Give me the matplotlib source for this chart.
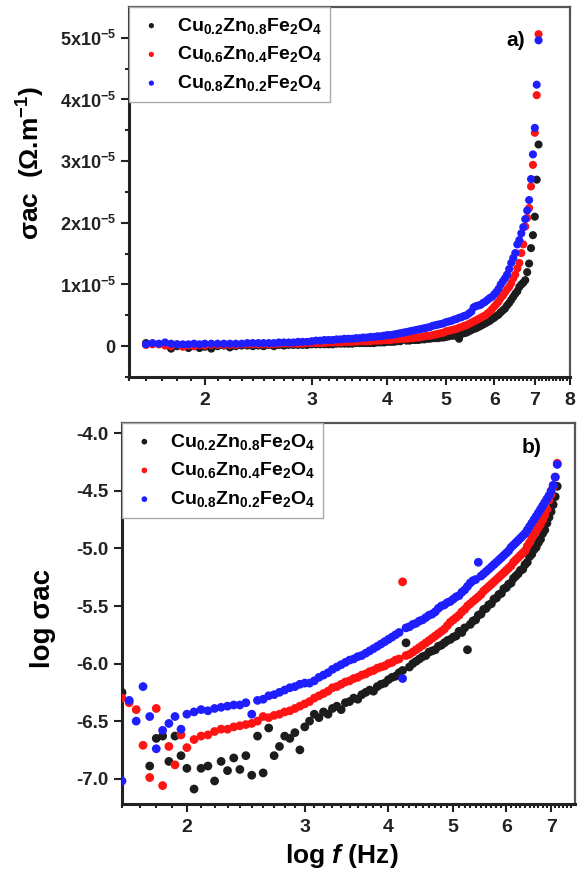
import numpy as np
import matplotlib
matplotlib.use('Agg')
import matplotlib.pyplot as plt
from matplotlib.ticker import FixedLocator, FixedFormatter, NullFormatter

plt.rcParams['font.family'] = ['Liberation Sans', 'DejaVu Sans']
plt.rcParams['font.weight'] = 'bold'
plt.rcParams['mathtext.fontset'] = 'custom'
plt.rcParams['mathtext.rm'] = 'Liberation Sans:bold'
plt.rcParams['mathtext.it'] = 'Liberation Sans:italic:bold'
plt.rcParams['mathtext.bf'] = 'Liberation Sans:bold'

nan = np.nan

# log f (Hz), shared by both panels
log_f = [1.60, 1.64, 1.68, 1.72, 1.76, 1.80, 1.84, 1.88, 1.92, 1.96,
         2.00, 2.05, 2.10, 2.15, 2.20, 2.25, 2.30, 2.35, 2.40, 2.45,
         2.50, 2.55, 2.60, 2.65, 2.70, 2.75, 2.80, 2.85, 2.90, 2.95,
         3.00, 3.05, 3.10, 3.15, 3.20, 3.25, 3.30, 3.35, 3.40, 3.45,
         3.50, 3.55, 3.60, 3.65, 3.70, 3.75, 3.80, 3.85, 3.90, 3.95,
         4.00, 4.05, 4.10, 4.15, 4.20, 4.25, 4.30, 4.35, 4.40, 4.45,
         4.50, 4.55, 4.60, 4.65, 4.70, 4.75, 4.80, 4.85, 4.90, 4.95,
         5.00, 5.05, 5.10, 5.15, 5.20, 5.25, 5.30, 5.35, 5.40, 5.45,
         5.50, 5.55, 5.60, 5.65, 5.70, 5.75, 5.80, 5.85, 5.90, 5.95,
         6.00, 6.05, 6.10, 6.15, 6.20, 6.25, 6.30, 6.35, 6.40, 6.45,
         6.50, 6.55, 6.60, 6.65, 6.70, 6.75, 6.80, 6.85, 6.90, 6.95,
         7.00, 7.05, 7.10, 7.15]

# panel a : sigma_ac in units of 1e-5
sig_02 = [0.05, nan, nan, nan, -0.04, 0.00, 0.01, -0.03, 0.00, -0.03,
          -0.01, -0.04, 0.00, 0.01, -0.02, 0.00, 0.01, 0.01, 0.00, 0.01,
          0.00, 0.02, 0.00, 0.02, 0.01, 0.02, 0.02, 0.02, 0.02, 0.02,
          0.03, 0.03, 0.03, 0.03, 0.03, 0.03, 0.04, 0.04, 0.04, 0.04,
          0.04, 0.05, 0.05, 0.05, 0.05, 0.05, 0.05, 0.06, 0.06, 0.06,
          0.07, 0.07, 0.07, 0.08, 0.08, 0.15, 0.09, 0.09, 0.10, 0.10,
          0.10, 0.11, 0.11, 0.12, 0.12, 0.13, 0.13, 0.13, 0.14, 0.14,
          0.15, 0.16, 0.17, 0.17, 0.18, 0.12, 0.20, 0.21, 0.22, 0.24,
          0.26, 0.28, 0.29, 0.31, 0.33, 0.35, 0.37, 0.39, 0.41, 0.44,
          0.46, 0.49, 0.51, 0.55, 0.58, 0.61, 0.66, 0.70, 0.75, 0.80,
          0.85, 0.89, 0.96, 1.00, 1.03, 1.07, 1.20, 1.34, 1.59, 1.80,
          2.10, 2.70, 3.27, nan]
sig_06 = [0.02, 0.03, 0.03, 0.01, 0.00, 0.03, -0.01, 0.01, 0.00, 0.02,
          0.01, 0.02, 0.02, 0.02, 0.02, 0.02, 0.03, 0.03, 0.03, 0.03,
          0.03, 0.03, 0.03, 0.04, 0.04, 0.04, 0.04, 0.04, 0.04, 0.05,
          0.05, 0.05, 0.05, 0.05, 0.06, 0.06, 0.06, 0.06, 0.07, 0.07,
          0.07, 0.07, 0.08, 0.08, 0.08, 0.08, 0.09, 0.09, 0.09, 0.10,
          0.10, 0.10, 0.11, 0.11, 0.12, 0.12, 0.12, 0.13, 0.13, 0.14,
          0.14, 0.15, 0.16, 0.17, 0.17, 0.18, 0.19, 0.20, 0.21, 0.22,
          0.24, 0.25, 0.26, 0.27, 0.28, 0.30, 0.31, 0.33, 0.34, 0.36,
          0.38, 0.40, 0.42, 0.44, 0.46, 0.48, 0.50, 0.53, 0.56, 0.60,
          0.64, 0.68, 0.72, 0.78, 0.82, 0.87, 0.92, 0.96, 1.02, 1.10,
          1.16, 1.26, 1.35, 1.51, 1.65, 1.94, 2.08, 2.24, 2.59, 2.94,
          3.46, 4.07, 5.06, nan]
sig_08 = [0.03, 0.05, 0.04, 0.06, 0.04, 0.03, 0.03, 0.03, 0.04, 0.03,
          0.04, 0.04, 0.04, 0.04, 0.04, 0.04, 0.04, 0.05, 0.05, 0.05,
          0.05, 0.05, 0.05, 0.06, 0.06, 0.06, 0.06, 0.07, 0.07, 0.07,
          0.08, 0.09, 0.09, 0.10, 0.10, 0.10, 0.11, 0.11, 0.12, 0.12,
          0.12, 0.13, 0.13, 0.14, 0.14, 0.15, 0.15, 0.16, 0.16, 0.17,
          0.18, 0.18, 0.19, 0.20, 0.21, 0.22, 0.23, 0.24, 0.25, 0.26,
          0.27, 0.28, 0.29, 0.30, 0.31, 0.33, 0.34, 0.35, 0.36, 0.37,
          0.39, 0.40, 0.41, 0.43, 0.44, 0.46, 0.47, 0.49, 0.50, 0.53,
          0.56, 0.63, 0.65, 0.66, 0.67, 0.70, 0.72, 0.75, 0.78, 0.80,
          0.84, 0.88, 0.93, 1.00, 1.05, 1.10, 1.16, 1.25, 1.35, 1.43,
          1.51, 1.65, 1.72, 1.83, 1.93, 2.06, 2.20, 2.37, 2.71, 3.11,
          3.54, 4.24, 4.96, nan]

# panel b : log sigma_ac
log_02 = [-6.25, nan, nan, nan, -6.89, -6.65, -6.63, -6.85, -6.63, -6.80,
          -6.91, -7.09, -6.91, -6.89, -7.02, -6.85, -6.93, -6.82, -6.92, -6.80,
          -6.97, -6.63, -6.95, -6.56, -6.80, -6.72, -6.63, -6.65, -6.60, -6.75,
          -6.55, -6.50, -6.44, -6.47, -6.42, -6.44, -6.39, -6.37, -6.40, -6.34,
          -6.33, -6.30, -6.31, -6.27, -6.25, -6.23, -6.24, -6.20, -6.18, -6.17,
          -6.14, -6.12, -6.11, -6.08, -6.06, -5.82, -6.03, -6.00, -5.98, -5.96,
          -5.94, -5.93, -5.90, -5.89, -5.88, -5.85, -5.84, -5.82, -5.80, -5.79,
          -5.77, -5.76, -5.72, -5.73, -5.69, -5.88, -5.66, -5.63, -5.62, -5.58,
          -5.57, -5.53, -5.52, -5.49, -5.48, -5.44, -5.43, -5.40, -5.39, -5.35,
          -5.34, -5.31, -5.30, -5.26, -5.24, -5.22, -5.19, -5.18, -5.14, -5.12,
          -5.07, -5.05, -5.01, -4.99, -4.95, -4.92, -4.87, -4.84, -4.78, -4.73,
          -4.68, -4.62, -4.55, -4.46]
log_06 = [-6.30, -6.34, -6.40, -6.71, -6.99, -6.39, -7.06, -6.72, -6.88, -6.62,
          -6.73, -6.66, -6.63, -6.62, -6.59, -6.57, -6.57, -6.55, -6.54, -6.53,
          -6.52, -6.50, -6.46, -6.47, -6.45, -6.44, -6.42, -6.41, -6.39, -6.37,
          -6.35, -6.33, -6.30, -6.28, -6.26, -6.24, -6.21, -6.20, -6.18, -6.16,
          -6.15, -6.13, -6.12, -6.10, -6.09, -6.07, -6.06, -6.04, -6.03, -6.02,
          -6.00, -5.99, -5.97, -5.96, -5.29, -5.93, -5.92, -5.90, -5.88, -5.86,
          -5.84, -5.82, -5.80, -5.78, -5.76, -5.74, -5.72, -5.70, -5.67, -5.64,
          -5.62, -5.60, -5.58, -5.55, -5.53, -5.50, -5.48, -5.46, -5.44, -5.42,
          -5.40, -5.37, -5.35, -5.33, -5.31, -5.29, -5.27, -5.25, -5.23, -5.21,
          -5.19, -5.17, -5.15, -5.12, -5.10, -5.08, -5.06, -5.04, -5.02, -4.98,
          -4.95, -4.91, -4.88, -4.85, -4.82, -4.79, -4.75, -4.71, -4.66, -4.58,
          -4.53, -4.46, -4.38, -4.26]
log_08 = [-7.02, -6.32, -6.50, -6.20, -6.46, -6.74, -6.58, -6.52, -6.46, -6.57,
          -6.44, -6.42, -6.40, -6.41, -6.39, -6.38, -6.37, -6.36, -6.36, -6.34,
          -6.44, -6.32, -6.31, -6.28, -6.27, -6.25, -6.23, -6.21, -6.20, -6.18,
          -6.17, -6.17, -6.15, -6.12, -6.10, -6.08, -6.05, -6.03, -6.01, -5.99,
          -5.97, -5.96, -5.94, -5.93, -5.91, -5.89, -5.87, -5.85, -5.83, -5.81,
          -5.79, -5.77, -5.75, -5.73, -6.13, -5.69, -5.68, -5.66, -5.65, -5.63,
          -5.62, -5.60, -5.58, -5.57, -5.55, -5.52, -5.50, -5.49, -5.47, -5.46,
          -5.44, -5.42, -5.41, -5.38, -5.36, -5.33, -5.30, -5.28, -5.27, -5.12,
          -5.24, -5.22, -5.20, -5.18, -5.16, -5.14, -5.12, -5.10, -5.08, -5.06,
          -5.04, -5.02, -4.99, -4.97, -4.95, -4.93, -4.91, -4.89, -4.87, -4.84,
          -4.81, -4.78, -4.75, -4.72, -4.69, -4.66, -4.63, -4.60, -4.57, -4.54,
          -4.50, -4.45, -4.38, -4.27]

labels = ['Cu$_{0.2}$Zn$_{0.8}$Fe$_{2}$O$_{4}$',
          'Cu$_{0.6}$Zn$_{0.4}$Fe$_{2}$O$_{4}$',
          'Cu$_{0.8}$Zn$_{0.2}$Fe$_{2}$O$_{4}$']
colors = ['#1c1c1c', '#ff1414', '#1e1eff']

W, H = 579, 875
fig = plt.figure(figsize=(W / 100, H / 100), dpi=100)
ax1 = fig.add_axes([129 / W, 1 - 377 / H, (570 - 129) / W, (377 - 7) / H])
ax2 = fig.add_axes([122 / W, 1 - 804 / H, (575 - 122) / W, (804 - 423) / H])


def style_axes(ax, xmax):
    ax.set_xscale('log')
    ax.xaxis.set_major_locator(FixedLocator(list(range(2, xmax + 1))))
    ax.xaxis.set_major_formatter(FixedFormatter([str(v) for v in range(2, xmax + 1)]))
    ax.xaxis.set_minor_locator(FixedLocator(np.arange(1.5, xmax + 0.6, 0.1)))
    ax.xaxis.set_minor_formatter(NullFormatter())
    ax.tick_params(which='both', direction='out', width=1.5, colors='#222')
    ax.tick_params(which='major', length=6)
    ax.tick_params(which='minor', length=3)
    ax.tick_params(axis='x', labelsize=14, pad=5)
    for side in ['left', 'bottom']:
        ax.spines[side].set_linewidth(2.2)
        ax.spines[side].set_color('#222')
    for side in ['top', 'right']:
        ax.spines[side].set_linewidth(1.6)
        ax.spines[side].set_color('#555')


def add_legend(ax):
    leg = ax.legend(loc='upper left', bbox_to_anchor=(0, 1), borderaxespad=0,
                    fontsize=14, markerscale=0.65, handletextpad=0.6,
                    handlelength=1.4, labelspacing=0.45, borderpad=0.45,
                    fancybox=False, framealpha=1, edgecolor='#aaaaaa')
    leg.get_frame().set_linewidth(1.0)


# a) linear conductivity
for ys, c, lab in zip([sig_02, sig_06, sig_08], colors, labels):
    ax1.scatter(log_f, ys, s=34, color=c, edgecolors='none', label=lab, zorder=3)
style_axes(ax1, 8)
ax1.set_xlim(1.5, 8)
ax1.set_ylim(-0.5, 5.5)
ax1.yaxis.set_major_locator(FixedLocator([0, 1, 2, 3, 4, 5]))
ax1.yaxis.set_major_formatter(FixedFormatter(['0'] + ['%dx10$^{-5}$' % k for k in range(1, 6)]))
ax1.yaxis.set_minor_locator(FixedLocator([-0.5, 0.5, 1.5, 2.5, 3.5, 4.5]))
ax1.tick_params(axis='y', labelsize=13)
ax1.set_ylabel('σac  (Ω.m$^{-1}$)', fontsize=19, fontweight='bold')
ax1.yaxis.set_label_coords(-0.185, 0.58)
ax1.text(0.877, 0.91, 'a)', transform=ax1.transAxes, fontsize=15,
         fontweight='bold', ha='center', va='center')
add_legend(ax1)

# b) log conductivity
for ys, c, lab in zip([log_02, log_06, log_08], colors, labels):
    ax2.scatter(log_f, ys, s=40, color=c, edgecolors='none', label=lab, zorder=3)
style_axes(ax2, 7)
ax2.set_xlim(1.6, 7.6)
ax2.set_ylim(-7.22, -3.91)
ax2.yaxis.set_major_locator(FixedLocator([-7.0, -6.5, -6.0, -5.5, -5.0, -4.5, -4.0]))
ax2.yaxis.set_major_formatter(FixedFormatter(['-7.0', '-6.5', '-6.0', '-5.5', '-5.0', '-4.5', '-4.0']))
ax2.tick_params(axis='y', labelsize=13.5)
ax2.set_ylabel('log σac', fontsize=20, fontweight='bold')
ax2.yaxis.set_label_coords(-0.145, 0.486)
ax2.set_xlabel('log $\\mathit{f}$ (Hz)', fontsize=19, fontweight='bold')
ax2.xaxis.set_label_coords(0.485, -0.1)
ax2.text(0.905, 0.937, 'b)', transform=ax2.transAxes, fontsize=15,
         fontweight='bold', ha='center', va='center')
add_legend(ax2)

fig.savefig('out.png', dpi=100)
